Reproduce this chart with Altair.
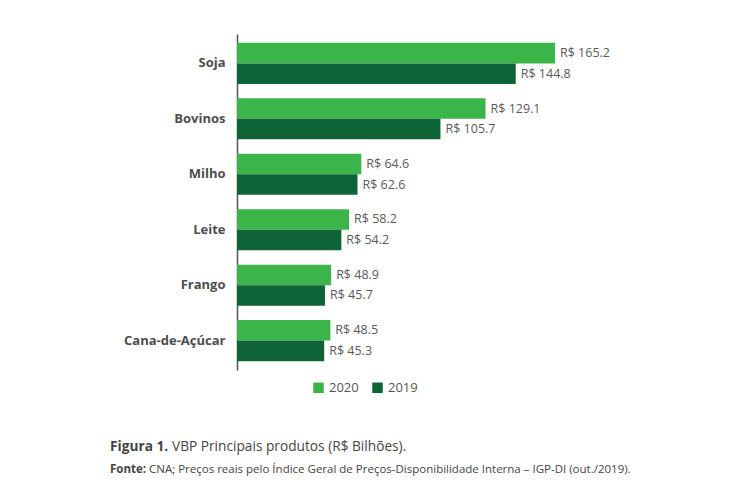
import altair as alt
import pandas as pd

categories = ["Soja", "Bovinos", "Milho", "Leite", "Frango", "Cana-de-Açúcar"]
v2020 = [165.2, 129.1, 64.6, 58.2, 48.9, 48.5]
v2019 = [144.8, 105.7, 62.6, 54.2, 45.7, 45.3]
years = ["2020", "2019"]

rows = []
for c, a, b in zip(categories, v2020, v2019):
    rows.append({"cat": c, "ano": "2020", "v": a, "lab": f"R$ {a:.1f}"})
    rows.append({"cat": c, "ano": "2019", "v": b, "lab": f"R$ {b:.1f}"})
df = pd.DataFrame(rows)

W, H = 460, 336
xmax = W / 1.925

y = alt.Y("cat:N", sort=categories, title=None,
          scale=alt.Scale(paddingInner=0.26, paddingOuter=0.16),
          axis=alt.Axis(domain=True, domainColor="#555555", domainWidth=1.5, ticks=False,
                        labelFontWeight="bold", labelFontSize=13, labelColor="#4d4d4d",
                        labelFont="Open Sans", labelPadding=12, grid=False))
yoff = alt.YOffset("ano:N", sort=years)
x = alt.X("v:Q", scale=alt.Scale(domain=[0, xmax]), axis=None)

base = alt.Chart(df)
bars = base.mark_bar().encode(
    y=y, yOffset=yoff, x=x,
    color=alt.Color("ano:N", sort=years,
                    scale=alt.Scale(domain=years, range=["#3bb54a", "#0f6437"]),
                    legend=alt.Legend(title=None, orient="none", direction="horizontal",
                                      legendX=75, legendY=347, symbolType="square",
                                      symbolSize=110, symbolStrokeWidth=0,
                                      labelFontSize=13, labelColor="#555555",
                                      labelFont="Open Sans", columnPadding=12))
)
labels = base.mark_text(align="left", dx=5, fontSize=12.5, color="#5a5a5a",
                        font="Open Sans").encode(
    y=alt.Y("cat:N", sort=categories), yOffset=yoff, x=x, text="lab:N")

cap = pd.DataFrame({"t": [0]})
def txt(s, xp, yp, size, weight="normal", color="#444444"):
    return alt.Chart(cap).mark_text(text=s, align="left", baseline="middle", fontSize=size,
                                    fontWeight=weight, color=color, font="Open Sans").encode(
        x=alt.value(xp), y=alt.value(yp))

c1 = txt("Figura 1.", -127, 413, 13.7, "bold")
c2 = txt("VBP Principais produtos (R$ Bilhões).", -65, 413, 13.7)
c3 = txt("Fonte:", -127, 436, 11.5, "bold")
c4 = txt("CNA; Preços reais pelo Índice Geral de Preços-Disponibilidade Interna – IGP-DI (out./2019).",
         -88, 436, 11.5)

chart = alt.layer(bars, labels, c1, c2, c3, c4).properties(
    width=W, height=H,
    autosize=alt.AutoSizeParams(type="none"),
    padding={"left": 229, "top": 26, "right": 43, "bottom": 121},
).configure_view(stroke=None)

chart.save("out.html", embed_options={"renderer": "svg", "actions": False})
